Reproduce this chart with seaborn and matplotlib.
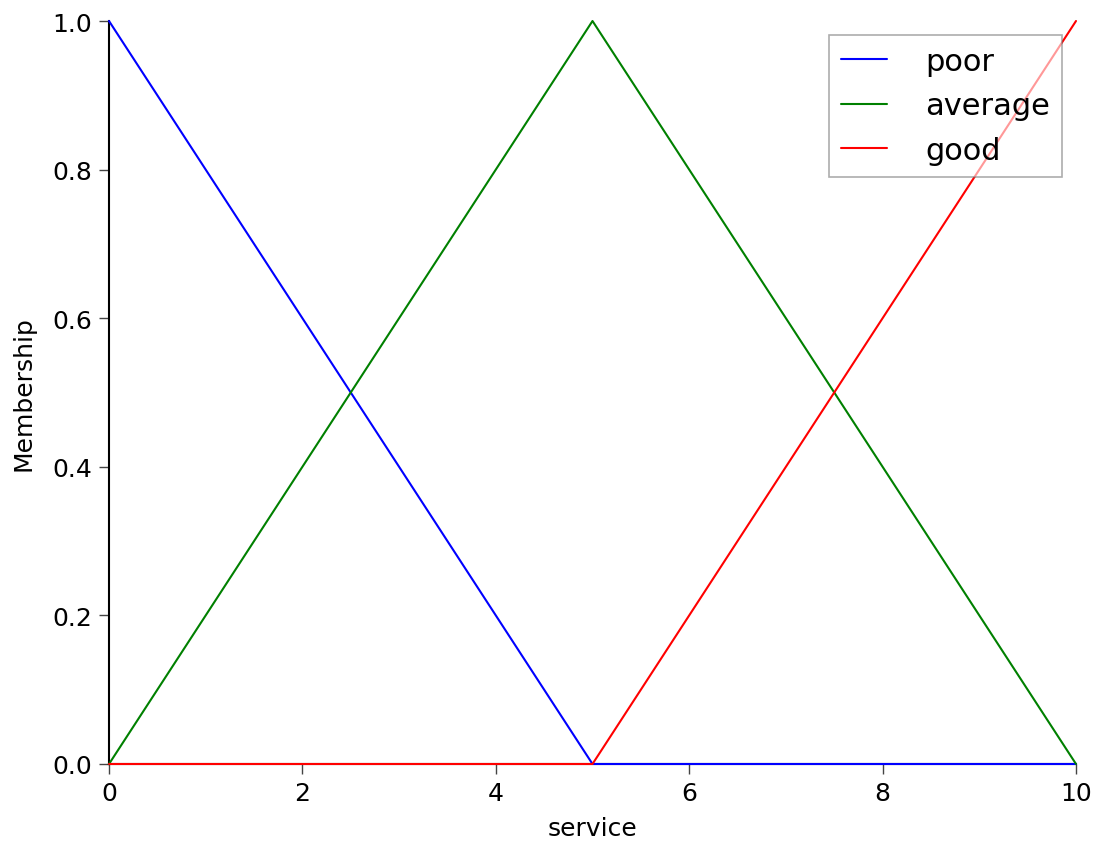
import matplotlib
matplotlib.use("Agg")
import matplotlib.pyplot as plt
import seaborn as sns
import pandas as pd

x_service = [0, 5, 10]
poor = [1.0, 0.0, 0.0]
average = [0.0, 1.0, 0.0]
good = [0.0, 0.0, 1.0]
labels = ["poor", "average", "good"]
x_ticks = [0, 2, 4, 6, 8, 10]
y_ticks = [0.0, 0.2, 0.4, 0.6, 0.8, 1.0]

rows = []
for name, vals in zip(labels, [poor, average, good]):
    for xv, yv in zip(x_service, vals):
        rows.append({"service": xv, "Membership": yv, "set": name})
df = pd.DataFrame(rows)

sns.set_style("ticks")
plt.rcParams['font.family'] = ['DejaVu Sans']
plt.rcParams['text.color'] = 'black'
plt.rcParams['axes.labelcolor'] = 'black'
plt.rcParams['xtick.color'] = '#444444'
plt.rcParams['ytick.color'] = '#444444'
plt.rcParams['xtick.labelcolor'] = 'black'
plt.rcParams['ytick.labelcolor'] = 'black'

fig = plt.figure(figsize=(10.98, 8.53), dpi=100)
ax = fig.add_axes([109/1098, 1 - 765/853, (1076 - 109)/1098, (765 - 22)/853])

sns.lineplot(data=df, x="service", y="Membership", hue="set",
             palette={"poor": "#0000ff", "average": "#008000", "good": "#ff0000"},
             linewidth=1.5, ax=ax, legend=True)
for ln in ax.lines:
    ln.set_clip_on(False)
    ln.set_zorder(3)

ax.set_xlim(0, 10)
ax.set_ylim(0, 1)
ax.set_xticks(x_ticks)
ax.set_yticks(y_ticks)
ax.set_yticklabels([f"{v:.1f}" for v in y_ticks])
ax.tick_params(axis="both", direction="out", length=7, width=1, labelsize=18, pad=5)
for s in ["top", "right"]:
    ax.spines[s].set_visible(False)
for s in ["left", "bottom"]:
    ax.spines[s].set_color("black")
    ax.spines[s].set_linewidth(1.5)
ax.set_xlabel("service", fontsize=18, labelpad=8)
ax.set_ylabel("Membership", fontsize=18, labelpad=12)

leg = ax.legend(loc="upper right", fontsize=22, fancybox=False, framealpha=0.6,
                edgecolor="#777777", handlelength=1.5, handletextpad=1.25,
                borderpad=0.4, labelspacing=0.5, borderaxespad=0.45)
leg.get_frame().set_linewidth(1.2)
leg.set_zorder(5)

fig.savefig("out.png", dpi=100)
